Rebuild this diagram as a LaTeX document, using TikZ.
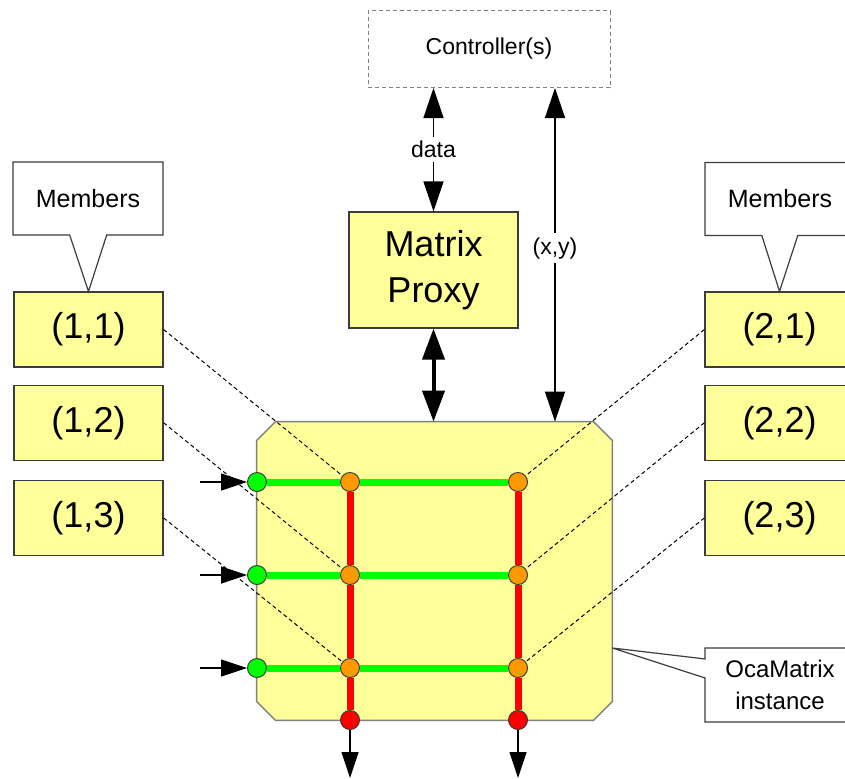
\documentclass[tikz,border=0pt]{standalone}
\usepackage{fontspec}
\setmainfont{Liberation Sans}
\usetikzlibrary{arrows.meta,positioning,shapes.callouts,calc}
\definecolor{pad}{HTML}{FFFF99}
\definecolor{frame}{HTML}{3C3C3C}
\definecolor{rim}{HTML}{808080}
\definecolor{inflow}{HTML}{00FF00}
\definecolor{cross}{HTML}{FF9900}
\definecolor{outflow}{HTML}{FF0000}

\begin{document}
\begin{tikzpicture}[
  x=0.5pt, y=-0.5pt,
  node distance=9pt and 9pt,
  member/.style={draw=frame, line width=0.6pt, fill=pad, inner sep=0pt, minimum width=74.5pt, minimum height=37.5pt, font=\fontsize{18}{22}\selectfont},
  note/.style={rectangle callout, draw=frame, fill=white, line width=0.6pt, inner sep=0pt, minimum width=75pt, minimum height=36.5pt, align=center},
  dot/.style={circle, draw=frame, line width=0.5pt, inner sep=0pt, minimum size=9.5pt},
  wire/.style={line width=3.5pt},
  link/.style={draw=black, line width=0.5pt, dash pattern=on 2pt off 1.5pt},
  arr/.style={{Triangle[length=15pt,width=10pt]}-{Triangle[length=15pt,width=10pt]}, line width=0.7pt},
  fat/.style={{Triangle[length=15.5pt,width=11pt]}-{Triangle[length=15.5pt,width=11pt]}, line width=2pt},
  feed/.style={-{Triangle[length=13pt,width=8.5pt]}, line width=0.6pt}
]
  \useasboundingbox (0,0) rectangle (845,778);
  \clip (0,0) rectangle (845,778);

  % controller and proxy
  \node[draw=rim, line width=0.5pt, dash pattern=on 2pt off 1.5pt, minimum width=121pt, minimum height=38.5pt, inner sep=0pt, font=\fontsize{11.5}{14}\selectfont] (ctrl) at (489,49) {Controller(s)};
  \node[draw=frame, line width=0.6pt, fill=pad, minimum width=84.5pt, minimum height=58pt, inner sep=0pt, align=center, font=\fontsize{18}{23}\selectfont] (proxy) at (433.5,270) {Matrix\\Proxy};

  % the matrix itself, corners cut
  \node[minimum width=177.5pt, minimum height=149pt, inner sep=0pt] (mx) at (434.5,571) {};
  \draw[draw=rim, fill=pad, line width=0.7pt] ($(mx.north west)+(19,0)$) -- ($(mx.north east)+(-19,0)$) -- ($(mx.north east)+(0,19)$) -- ($(mx.south east)+(0,-19)$) -- ($(mx.south east)+(-19,0)$) -- ($(mx.south west)+(19,0)$) -- ($(mx.south west)+(0,-19)$) -- ($(mx.north west)+(0,19)$) -- cycle;

  % member boxes
  \node[member] (m11) at (88.5,329.5) {(1,1)};
  \node[member, below=8.5pt of m11] (m12) {(1,2)};
  \node[member, below=9.5pt of m12] (m13) {(1,3)};
  \node[member] (m21) at (779.5,329.5) {(2,1)};
  \node[member, below=8.5pt of m21] (m22) {(2,2)};
  \node[member, below=9.5pt of m22] (m23) {(2,3)};

  % callouts
  \node[note, font=\fontsize{12.5}{15}\selectfont, callout absolute pointer={(m11.north)}, callout pointer width=18.5pt] (lmem) at (88,198.5) {Members};
  \node[note, font=\fontsize{12.5}{15}\selectfont, callout absolute pointer={(m21.north)}, callout pointer width=18pt] (rmem) at (780,199) {Members};
  \coordinate (tip) at ($(mx.east)+(0,77)$);
  \node[note, font=\fontsize{12}{16}\selectfont, minimum height=37pt, callout absolute pointer={(tip)}, callout pointer width=9.5pt] (inst) at (780,685) {OcaMatrix\\instance};

  % crosspoints
  \node[dot, fill=inflow] (g1) at (257,482) {};
  \node[dot, fill=cross] (a1) at (350,482) {};
  \node[dot, fill=cross] (b1) at (518,482) {};
  \node[dot, fill=inflow] (g2) at (257,575) {};
  \node[dot, fill=cross] (a2) at (350,575) {};
  \node[dot, fill=cross] (b2) at (518,575) {};
  \node[dot, fill=inflow] (g3) at (257,668) {};
  \node[dot, fill=cross] (a3) at (350,668) {};
  \node[dot, fill=cross] (b3) at (518,668) {};
  \node[dot, fill=outflow] (ra) at (350,720) {};
  \node[dot, fill=outflow] (rb) at (518,720) {};

  % dashed member links
  \draw[link] (m11.east) -- (a1);
  \draw[link] (m12.east) -- (a2);
  \draw[link] (m13.east) -- (a3);
  \draw[link] (m21.west) -- (b1);
  \draw[link] (m22.west) -- (b2);
  \draw[link] (m23.west) -- (b3);

  % inputs and outputs
  \draw[wire, draw=inflow] (g1) -- (a1) -- (b1);
  \draw[wire, draw=inflow] (g2) -- (a2) -- (b2);
  \draw[wire, draw=inflow] (g3) -- (a3) -- (b3);
  \draw[wire, draw=outflow] (a1) -- (a2) -- (a3) -- (ra);
  \draw[wire, draw=outflow] (b1) -- (b2) -- (b3) -- (rb);

  \coordinate (i1) at (200,482);
  \coordinate (i2) at (200,575);
  \coordinate (i3) at (200,668);
  \coordinate (oa) at (350,778);
  \coordinate (ob) at (518,778);
  \draw[feed] (i1) -- (g1);
  \draw[feed] (i2) -- (g2);
  \draw[feed] (i3) -- (g3);
  \draw[feed] (ra) -- (oa);
  \draw[feed] (rb) -- (ob);

  % control arrows
  \draw[arr] (proxy.north |- ctrl.south) -- (proxy.north) node[midway, fill=white, inner sep=2pt, font=\fontsize{11.5}{14}\selectfont] {data};
  \draw[fat] (proxy.south) -- (proxy.south |- mx.north);
  \coordinate (xy) at (555,0);
  \draw[arr] (xy |- ctrl.south) -- (xy |- mx.north) node[pos=0.48, fill=white, inner sep=2pt, font=\fontsize{11.5}{14}\selectfont] {(x,y)};
\end{tikzpicture}
\end{document}
